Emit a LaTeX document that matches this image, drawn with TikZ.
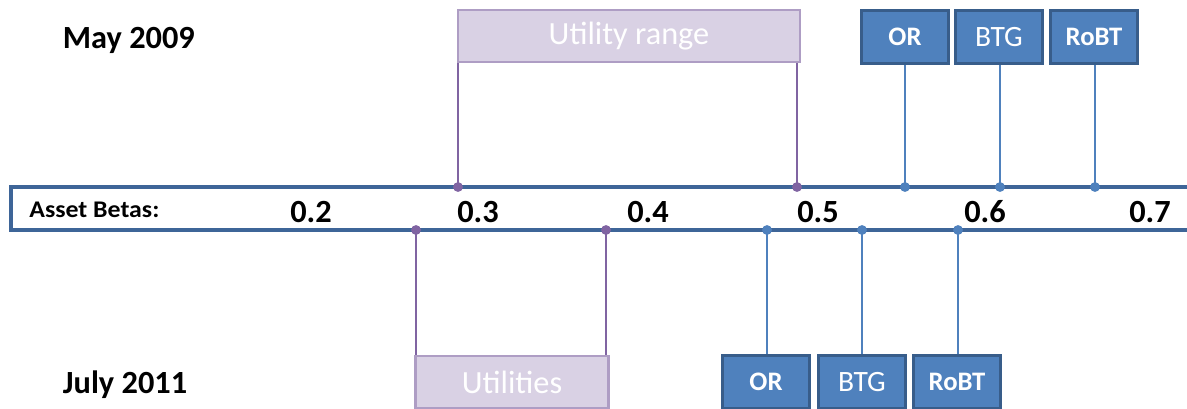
\documentclass[tikz,border=0pt]{standalone}
\usepackage{fontspec}
\setmainfont{Carlito}
\usepackage{tikz}
\usetikzlibrary{positioning, calc}

\definecolor{boxblue}{HTML}{4F81BD}
\definecolor{boxedge}{HTML}{385D8A}
\definecolor{axisblue}{HTML}{3E6598}
\definecolor{rangefill}{HTML}{D9D1E4}
\definecolor{rangeedge}{HTML}{AE9DC4}
\definecolor{rangeline}{HTML}{8064A2}

\tikzset{
  firm/.style={draw=boxedge, line width=2.2pt, fill=boxblue, text=white,
    minimum width=2.17cm, minimum height=1.32cm, inner sep=0pt, font=\fontsize{21}{21}\selectfont},
  boldfirm/.style={firm, font=\bfseries\fontsize{19}{19}\selectfont},
  spanbox/.style={draw=rangeedge, line width=2pt, fill=rangefill, text=white,
    minimum height=1.3cm, inner sep=0pt, font=\fontsize{23}{23}\selectfont},
  datelabel/.style={font=\bfseries\fontsize{23}{23}\selectfont, anchor=west},
  ticklabel/.style={font=\bfseries\fontsize{23}{23}\selectfont},
  dot/.style={circle, fill, inner sep=0pt, minimum size=7pt},
  firmline/.style={boxblue, line width=1.8pt},
  rangelink/.style={rangeline, line width=1.8pt}
}

\begin{document}
\begin{tikzpicture}[x=0.025cm, y=-0.025cm]
\clip (0,0) rectangle (1187,408);

% axis
\draw[axisblue, line width=2.6pt] (11,187) rectangle (1210,230);
\node[font=\bfseries\fontsize{17}{17}\selectfont, anchor=west, xscale=1.08] (betas) at (24,210) {Asset Betas:};
\foreach \v/\x in {0.2/311, 0.3/478, 0.4/648, 0.5/818, 0.6/985, 0.7/1150}
  \node[ticklabel] (t\x) at (\x,212) {\v};

% dates
\node[datelabel] (may) at (58,40) {May 2009};
\node[datelabel] (july) at (58,385) {July 2011};

% points on the axis
\foreach \n/\x in {ua/458, ub/797, ora/905, btga/1000, robta/1095}
  \coordinate (\n) at (\x,187);
\foreach \n/\x in {ma/416, mb/606, orb/767, btgb/862, robtb/958}
  \coordinate (\n) at (\x,230);

% 2009 boxes
\node[spanbox, minimum width=8.55cm] (urange) at (629,36) {Utility range};
\node[boldfirm] (or09) at (905,37) {OR};
\node[firm] (btg09) at (999,37) {BTG};
\node[boldfirm] (robt09) at (1094,37) {RoBT};

% 2011 boxes
\node[spanbox, minimum width=4.82cm] (util) at (512,382) {Utilities};
\node[boldfirm] (or11) at (766,382) {OR};
\node[firm] (btg11) at (862,382) {BTG};
\node[boldfirm] (robt11) at (957,382) {RoBT};

% links
\draw[rangelink] (urange.south west -| ua) -- (ua);
\draw[rangelink] (urange.south east -| ub) -- (ub);
\draw[rangelink] (util.north west -| ma) -- (ma);
\draw[rangelink] (util.north east -| mb) -- (mb);
\draw[firmline] (or09.south -| ora) -- (ora);
\draw[firmline] (btg09.south -| btga) -- (btga);
\draw[firmline] (robt09.south -| robta) -- (robta);
\draw[firmline] (or11.north -| orb) -- (orb);
\draw[firmline] (btg11.north -| btgb) -- (btgb);
\draw[firmline] (robt11.north -| robtb) -- (robtb);

% dots
\foreach \p in {ua,ub,ma,mb}{\node[dot, rangeline] at (\p) {};}
\foreach \p in {ora,btga,robta,orb,btgb,robtb}{\node[dot, boxblue] at (\p) {};}
\end{tikzpicture}
\end{document}
